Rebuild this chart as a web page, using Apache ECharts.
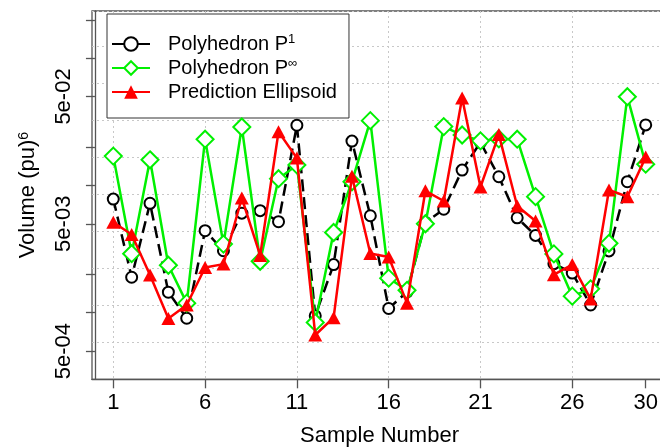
<!DOCTYPE html>
<html><head><meta charset="utf-8">
<script src="https://cdn.jsdelivr.net/npm/echarts@6/dist/echarts.min.js"></script>
<style>html,body{margin:0;padding:0;background:#fff}#c{width:660px;height:447px}</style>
</head><body><div id="c"></div>
<script>
const sampleNumbers = [1,2,3,4,5,6,7,8,9,10,11,12,13,14,15,16,17,18,19,20,21,22,23,24,25,26,27,28,29,30];
const polyhedronP1 = [7.81e-3,1.90e-3,7.24e-3,1.45e-3,9.05e-4,4.41e-3,3.07e-3,6.06e-3,6.34e-3,5.19e-3,
  2.97e-2,9.47e-4,2.39e-3,2.23e-2,5.78e-3,1.08e-3,1.46e-3,5.12e-3,6.50e-3,1.32e-2,
  2.18e-2,1.17e-2,5.57e-3,4.05e-3,2.43e-3,2.05e-3,1.15e-3,3.06e-3,1.07e-2,2.99e-2];
const polyhedronPInf = [1.70e-2,2.91e-3,1.59e-2,2.36e-3,1.19e-3,2.31e-2,3.46e-3,2.88e-2,2.54e-3,1.13e-2,
  1.45e-2,8.39e-4,4.27e-3,1.07e-2,3.23e-2,1.87e-3,1.50e-3,5.00e-3,2.90e-2,2.49e-2,
  2.24e-2,2.32e-2,2.31e-2,8.17e-3,2.90e-3,1.35e-3,1.54e-3,3.51e-3,4.98e-2,1.47e-2];
const predictionEllipsoid = [5.14e-3,4.12e-3,1.98e-3,9.02e-4,1.15e-3,2.27e-3,2.41e-3,7.97e-3,2.82e-3,2.64e-2,
  1.64e-2,6.69e-4,9.14e-4,1.18e-2,2.92e-3,2.74e-3,1.19e-3,9.08e-3,7.55e-3,4.87e-2,
  9.73e-3,2.51e-2,6.90e-3,5.26e-3,1.99e-3,2.39e-3,1.28e-3,9.22e-3,8.15e-3,1.67e-2];
const seriesNames = ['Polyhedron P1', 'Polyhedron P\u221E', 'Prediction Ellipsoid'];
const legendLabels = ['Polyhedron P{sup|1}', 'Polyhedron P{sup|\u221E}', 'Prediction Ellipsoid'];
const xTickValues = [1,6,11,16,21,26,30];
const xGridValues = [1,6,11,16,21,26];
const yTickValues = [5e-4,1e-3,2e-3,5e-3,1e-2,2e-2,5e-2,0.1,0.2];
const yLabelValues = [5e-4,5e-3,5e-2];
const xTitle = 'Sample Number';
const yTitle = 'Volume (pu){sup|6}';

const FONT = 'Liberation Sans, Arial, sans-serif';
function pairs(vals){ return vals.map((v,i)=>[sampleNumbers[i], v]); }
function fmtE(v){
  const s = Number(v).toExponential(0);
  const [m, e] = s.split('e');
  const n = parseInt(e,10);
  return m + 'e' + (n<0?'-':'+') + String(Math.abs(n)).padStart(2,'0');
}
const GREEN = '#00f000';
const chart = echarts.init(document.getElementById('c'), null, {renderer:'canvas'});
chart.setOption({
  animation:false,
  backgroundColor:'#fff',
  grid:{left:92, top:11, right:-7, bottom:67.7, show:true, borderColor:'#555', borderWidth:1.3,
    backgroundColor:'transparent', containLabel:false, outerBoundsMode:'none'},
  legend:{
    orient:'vertical', left:107, top:14, padding:[19,12,15,4],
    itemWidth:38, itemHeight:17, itemGap:2,
    backgroundColor:'#fff', borderColor:'#333', borderWidth:1, borderRadius:0,
    data:seriesNames,
    lineStyle:{type:'solid'},
    formatter:function(name){ return legendLabels[seriesNames.indexOf(name)]; },
    textStyle:{fontSize:20, fontFamily:FONT, color:'#000', lineHeight:22, padding:[0,0,0,13],
      rich:{sup:{fontSize:13, fontFamily:FONT, color:'#000', verticalAlign:'top', lineHeight:13}}}
  },
  xAxis:[{
    type:'value', min:-0.16, max:31.16,
    name:xTitle, nameLocation:'middle', nameGap:46,
    nameTextStyle:{fontSize:22, fontFamily:FONT, color:'#000'},
    axisLine:{show:true, lineStyle:{color:'#555', width:1.3}},
    axisTick:{show:true, length:9, customValues:xTickValues, lineStyle:{color:'#555', width:1.3}},
    axisLabel:{show:true, customValues:xTickValues, margin:13, fontSize:22, fontFamily:FONT, color:'#000'},
    splitLine:{show:false}
  },{
    type:'value', min:-0.16, max:31.16, position:'bottom',
    axisLine:{show:false}, axisLabel:{show:false},
    axisTick:{show:false, customValues:xGridValues},
    splitLine:{show:true, lineStyle:{color:'#c8c8c8', width:1, type:[2,3]}}
  }],
  yAxis:[{
    type:'log', logBase:10, min:3.0e-4, max:0.2347,
    name:yTitle, nameLocation:'middle', nameGap:53, nameRotate:90,
    nameTextStyle:{fontSize:22, fontFamily:FONT, color:'#000', lineHeight:22,
      rich:{sup:{fontSize:14, fontFamily:FONT, color:'#000', verticalAlign:'top', lineHeight:14}}},
    axisLine:{show:true, lineStyle:{color:'#555', width:1.3}},
    axisTick:{show:true, length:9, customValues:yTickValues, lineStyle:{color:'#555', width:1.3}},
    axisLabel:{show:true, customValues:yLabelValues, rotate:90, margin:17, fontSize:22, fontFamily:FONT, color:'#000',
      formatter:fmtE},
    splitLine:{show:false}
  },{
    type:'value', min:0, max:9.954, interval:1, position:'left',
    axisLine:{show:false}, axisLabel:{show:false}, axisTick:{show:false},
    splitLine:{show:true, lineStyle:{color:'#c8c8c8', width:1, type:[2,3]}}
  }],
  series:[
    {name:seriesNames[0], type:'line', data:pairs(polyhedronP1), symbol:'emptyCircle', symbolSize:11,
     lineStyle:{color:'#000', width:2.5, type:[12,6]}, itemStyle:{color:'#000', borderWidth:2.5}, z:3},
    {name:seriesNames[1], type:'line', data:pairs(polyhedronPInf), symbol:'emptyDiamond', symbolSize:17,
     lineStyle:{color:GREEN, width:2.5}, itemStyle:{color:GREEN, borderWidth:2.5}, z:4},
    {name:seriesNames[2], type:'line', data:pairs(predictionEllipsoid), symbol:'triangle', symbolSize:[14,13],
     lineStyle:{color:'#ff0000', width:2.5}, itemStyle:{color:'#ff0000', borderWidth:0}, z:5}
  ]
});
</script></body></html>
